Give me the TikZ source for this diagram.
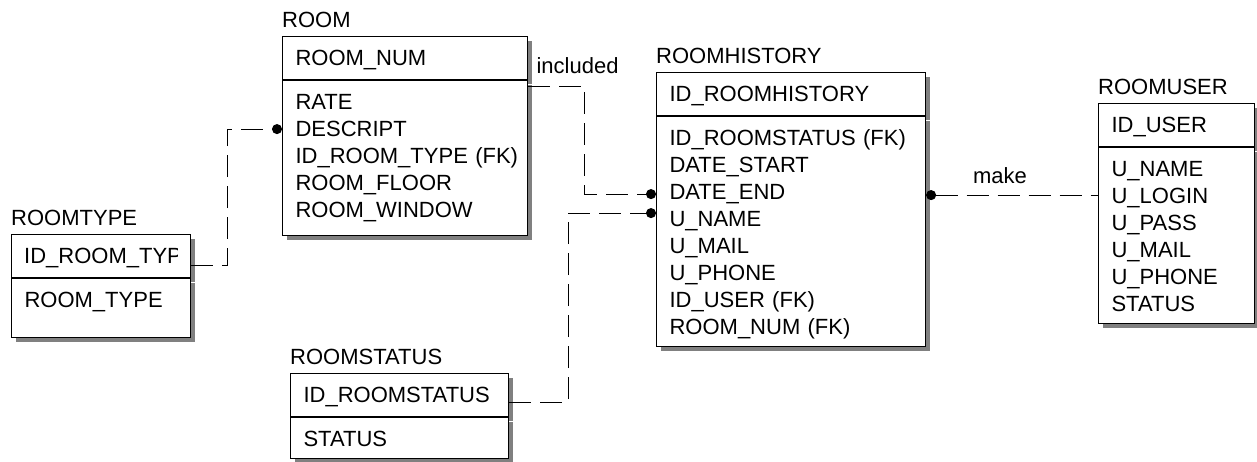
\documentclass[tikz,border=0pt]{standalone}
\usepackage{fontspec}
\setmainfont{Liberation Sans}
\usetikzlibrary{arrows.meta, positioning, shadows}

\begin{document}
\begin{tikzpicture}[x=1pt, y=-1pt,
    font=\fontsize{22pt}{27pt}\selectfont,
    entity/.style={draw, fill=white, line width=1.1pt, anchor=north west, align=left, inner xsep=13pt, inner ysep=6pt, text height=23pt,
      drop shadow={shadow xshift=4pt, shadow yshift=-4pt, fill=black!50, opacity=1}},
    keybox/.style={entity, text depth=8pt},
    attrbox/.style={entity, anchor=north},
    tblname/.style={inner sep=0pt},
    rel/.style={line width=0.9pt, dash pattern=on 22pt off 9pt},
    lbl/.style={inner sep=0pt}
  ]
  \useasboundingbox (0,0) rectangle (1257,462);

  % ROOMTYPE (key text is cut at the box edge)
  \node[keybox, text width=153pt] (rt-key) at (11,234) {};
  \begin{scope}
    \clip (rt-key.south west) rectangle ([xshift=-14pt]rt-key.north east);
    \node[anchor=base west, inner sep=0pt] (rt-keytext) at ([xshift=13pt]rt-key.base west) {ID\_ROOM\_TYPE};
  \end{scope}
  \node[attrbox, text width=153pt, text depth=24pt, below=0pt of rt-key] (rt-attr) {ROOM\_TYPE};
  \node[tblname, above right=8pt and 0pt of rt-key.north west] (rt-name) {ROOMTYPE};

  % ROOM
  \node[keybox, text width=219pt] (room-key) at (282,36) {ROOM\_NUM};
  \node[attrbox, text width=219pt, text depth=120pt, below=0pt of room-key] (room-attr) {RATE\\DESCRIPT\\\mbox{ID\_ROOM\_TYPE (FK)}\\ROOM\_FLOOR\\ROOM\_WINDOW};
  \node[tblname, above right=8pt and 0pt of room-key.north west] (room-name) {ROOM};

  % ROOMHISTORY
  \node[keybox, text width=243pt] (rh-key) at (656,72) {ID\_ROOMHISTORY};
  \node[attrbox, text width=243pt, text depth=195pt, below=0pt of rh-key] (rh-attr) {ID\_ROOMSTATUS (FK)\\DATE\_START\\DATE\_END\\U\_NAME\\U\_MAIL\\U\_PHONE\\ID\_USER (FK)\\ROOM\_NUM (FK)};
  \node[tblname, above right=8pt and 0pt of rh-key.north west] (rh-name) {ROOMHISTORY};

  % ROOMUSER
  \node[keybox, text width=130pt] (ru-key) at (1098,103) {ID\_USER};
  \node[attrbox, text width=130pt, text depth=141pt, below=0pt of ru-key] (ru-attr) {U\_NAME\\U\_LOGIN\\U\_PASS\\U\_MAIL\\U\_PHONE\\STATUS};
  \node[tblname, above right=8pt and 0pt of ru-key.north west] (ru-name) {ROOMUSER};

  % ROOMSTATUS
  \node[keybox, text width=192pt] (rs-key) at (290,373) {ID\_ROOMSTATUS};
  \node[attrbox, text width=192pt, text depth=6pt, below=0pt of rs-key] (rs-attr) {STATUS};
  \node[tblname, above right=8pt and 0pt of rs-key.north west] (rs-name) {ROOMSTATUS};

  % relationships
  \draw[rel, -{Circle[length=10pt]}] ([yshift=-9pt]rt-key.east) -- ++(36,0) |- ([yshift=-49pt]room-attr.north west);
  \draw[rel, -{Circle[length=10pt]}] ([yshift=-6pt]room-key.south east) node[lbl, above right=12pt and 8pt] (incl) {included} -- ++(56,0) |- ([yshift=-78pt]rh-attr.north west);
  \draw[rel, -{Circle[length=10pt]}] ([yshift=-7pt]rs-key.east) -- ++(59,0) |- ([yshift=-97pt]rh-attr.north west);
  \draw[rel, {Circle[length=10pt]}-] ([yshift=-79pt]rh-attr.north east) -- node[lbl, above=11pt, pos=0.43] (mk) {make} ([yshift=-48pt]ru-attr.north west);
\end{tikzpicture}
\end{document}
